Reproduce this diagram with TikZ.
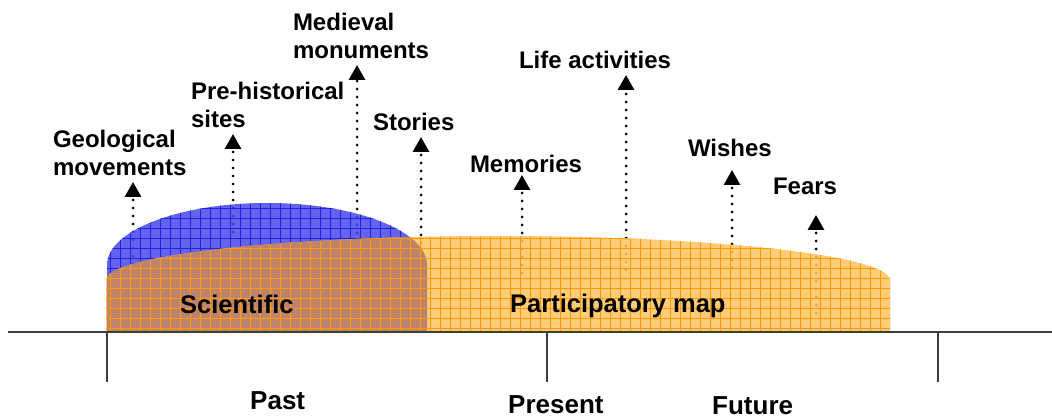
\documentclass[tikz,border=0pt]{standalone}
\usepackage{fontspec}
\setmainfont{Liberation Sans}
\usepackage{tikz}
\usepackage{xcolor}
\usetikzlibrary{arrows.meta}

\definecolor{paleorange}{RGB}{255,196,96}
\definecolor{gridorange}{RGB}{255,153,0}
\definecolor{domeblue}{RGB}{72,72,236}
\definecolor{gridblue}{RGB}{35,35,220}
\definecolor{mixbrown}{RGB}{186,128,106}
\definecolor{axisgray}{RGB}{60,60,60}

\newcommand{\domepath}{(107,86) -- (107,153) arc[start angle=180,end angle=0,x radius=160pt,y radius=62pt] -- (427,86) -- cycle}
\newcommand{\mappath}{(106,86) -- (106,138) arc[start angle=180,end angle=0,x radius=392pt,y radius=44pt] -- (890,86) -- cycle}

\begin{document}
\begin{tikzpicture}[x=1pt,y=1pt,
  lbl/.style = {font=\fontsize{24}{28}\selectfont\bfseries, align=left, inner sep=0pt, outer sep=0pt, anchor=south west},
  maplbl/.style = {font=\fontsize{25.5}{30}\selectfont\bfseries, inner sep=0pt, anchor=base west},
  timelbl/.style = {font=\fontsize{26}{30}\selectfont\bfseries, inner sep=0pt, anchor=base west},
  pointer/.style = {line width=3pt, line cap=round, dash pattern=on 0pt off 8pt,
                    -{Triangle[width=16pt,length=15pt]}, shorten >=6pt},
  gridline/.style = {line width=0.7pt, step=10}]
\useasboundingbox (0,0) rectangle (1052,418);

% labels above the map
\node[lbl] (geo) at (53,242) {Geological\\movements};
\node[lbl] (prehist) at (191,290) {Pre-historical\\sites};
\node[lbl] (medieval) at (293,359) {Medieval\\monuments};
\node[lbl] (stories) at (373,287) {Stories};
\node[lbl] (memories) at (470,245) {Memories};
\node[lbl] (life) at (519,349) {Life activities};
\node[lbl] (wishes) at (688,261) {Wishes};
\node[lbl] (fears) at (773,223) {Fears};

% foot of each pointer
\coordinate (geo-b) at (133,138);
\coordinate (prehist-b) at (233,186);
\coordinate (medieval-b) at (357,161);
\coordinate (stories-b) at (421,135);
\coordinate (memories-b) at (522,145);
\coordinate (life-b) at (626,148);
\coordinate (wishes-b) at (732,150);
\coordinate (fears-b) at (816,105);

\draw[pointer] (geo-b) -- (geo-b |- geo.south);
\draw[pointer] (prehist-b) -- (prehist-b |- prehist.south);
\draw[pointer] (medieval-b) -- (medieval-b |- medieval.south);
\draw[pointer] (stories-b) -- (stories-b |- stories.south);
\draw[pointer, shorten >=2pt] (memories-b) -- (memories-b |- memories.south);
\draw[pointer] (life-b) -- (life-b |- life.south);
\draw[pointer, shorten >=13pt] (wishes-b) -- (wishes-b |- wishes.south);
\draw[pointer, shorten >=20pt] (fears-b) -- (fears-b |- fears.south);

% scientific dome
\begin{scope}
\clip \domepath;
\fill[domeblue, fill opacity=0.85] (100,80) rectangle (440,220);
\draw[gridline, gridblue] (100,80) grid (440,220);
\end{scope}

% participatory map
\begin{scope}
\clip \mappath;
\fill[paleorange, fill opacity=0.85] (100,80) rectangle (900,190);
\draw[gridline, gridorange] (100,80) grid (900,190);
\end{scope}

% overlap
\begin{scope}
\clip \domepath;
\clip \mappath;
\fill[mixbrown, fill opacity=0.9] (100,80) rectangle (440,190);
\draw[gridline, gridorange] (100,80) grid (440,190);
\end{scope}

\node[maplbl] (scientific) at (180,105) {Scientific};
\node[maplbl] (partmap) at (510,106) {Participatory map};

% time axis
\coordinate (axl) at (8,86);
\coordinate (axr) at (1052,86);
\coordinate (tpast) at (107,86);
\coordinate (tnow) at (547,86);
\coordinate (tfut) at (938,86);
\draw[axisgray, line width=2pt] (axl) -- (axr);
\draw[axisgray, line width=1.5pt] (tpast) -- ++(0,-50);
\draw[axisgray, line width=1.5pt] (tnow) -- ++(0,-50);
\draw[axisgray, line width=1.5pt] (tfut) -- ++(0,-50);

\node[timelbl] (past) at (250,9) {Past};
\node[timelbl] (present) at (508,5) {Present};
\node[timelbl] (future) at (712,4) {Future};
\end{tikzpicture}
\end{document}
